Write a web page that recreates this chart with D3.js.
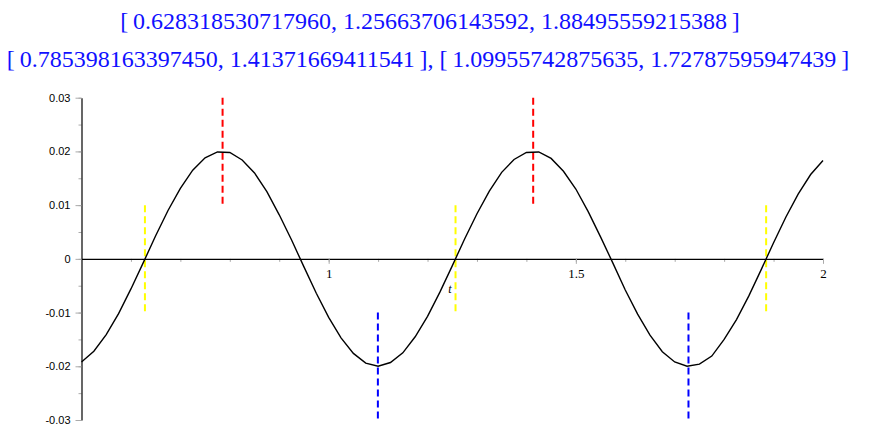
<!DOCTYPE html>
<html><head><meta charset="utf-8">
<script src="https://cdn.jsdelivr.net/npm/d3@7"></script>
<style>body{margin:0;background:#fff;}svg{display:block;}</style>
</head><body><svg id="c" width="896" height="436"></svg>
<script>
const titleLine1 = "[\u20090.628318530717960, 1.25663706143592, 1.88495559215388\u2009]";
const titleLine2 = "[\u20090.785398163397450, 1.41371669411541\u2009], [\u20091.09955742875635, 1.72787595947439\u2009]";
const tValues = [0.500,0.525,0.550,0.575,0.600,0.625,0.650,0.675,0.700,0.725,0.750,0.775,0.800,0.825,0.850,0.875,0.900,0.925,0.950,0.975,
  1.000,1.025,1.050,1.075,1.100,1.125,1.150,1.175,1.200,1.225,1.250,1.275,1.300,1.325,1.350,1.375,1.400,1.425,1.450,1.475,
  1.500,1.525,1.550,1.575,1.600,1.625,1.650,1.675,1.700,1.725,1.750,1.775,1.800,1.825,1.850,1.875,1.900,1.925,1.950,1.975,2.000];
const fValues = [-0.0192,-0.0172,-0.0141,-0.0102,-0.0056,-0.0007,0.0043,0.0090,0.0131,0.0165,0.0188,0.0199,0.0198,0.0184,0.0160,0.0125,0.0082,0.0035,-0.0015,-0.0064,
  -0.0109,-0.0147,-0.0176,-0.0194,-0.0200,-0.0193,-0.0175,-0.0145,-0.0107,-0.0062,-0.0013,0.0037,0.0084,0.0126,0.0161,0.0185,0.0198,0.0199,0.0187,0.0163,
  0.0130,0.0088,0.0041,-0.0008,-0.0058,-0.0103,-0.0142,-0.0173,-0.0192,-0.0200,-0.0196,-0.0181,-0.0150,-0.0113,-0.0069,-0.0020,0.0030,0.0078,0.0121,0.0157,0.0183];
const zeros = [0.628318530717960, 1.25663706143592, 1.88495559215388];
const maxima = [0.785398163397450, 1.41371669411541];
const minima = [1.09955742875635, 1.72787595947439];
const zeroSpan = [-0.01, 0.01];
const maxSpan = [0.01, 0.03];
const minSpan = [-0.03, -0.01];
const yTickValues = [0.03, 0.02, 0.01, 0, -0.01, -0.02, -0.03];
const yTickLabels = ["0.03","0.02","0.01","0","-0.01","-0.02","-0.03"];
const xTickValues = [1, 1.5, 2];
const xTickLabels = ["1","1.5","2"];
const xLabel = "t";

const svg = d3.select("#c");
const x = d3.scaleLinear().domain([0.5, 2]).range([81.5, 823]);
const y = d3.scaleLinear().domain([-0.03, 0.03]).range([420, 97.7]);

// title
svg.append("text").attr("x", 430).attr("y", 29).attr("text-anchor","middle")
  .attr("font-family","'Liberation Serif','Times New Roman',serif").attr("font-size",24)
  .attr("fill","#1010ff").text(titleLine1);
svg.append("text").attr("x", 428).attr("y", 67).attr("text-anchor","middle")
  .attr("font-family","'Liberation Serif','Times New Roman',serif").attr("font-size",24)
  .attr("fill","#1010ff").text(titleLine2);

// x axis minor ticks
const xMinor = d3.range(6, 21).map(d => d/10);
const gxm = svg.append("g").attr("transform", `translate(0,${y(0)})`)
  .call(d3.axisBottom(x).tickValues(xMinor).tickSize(3).tickFormat(""));
gxm.selectAll(".tick line").attr("stroke","#aaa");
gxm.select(".domain").remove();
const gx = svg.append("g").attr("transform", `translate(0,${y(0)})`)
  .call(d3.axisBottom(x).tickValues(xTickValues).tickSize(5).tickSizeOuter(0).tickPadding(5)
    .tickFormat((d,i) => xTickLabels[i]));
gx.selectAll(".tick line").attr("stroke","#aaa");
gx.select(".domain").attr("stroke","#000").attr("stroke-width",1.2);
gx.selectAll(".tick text").attr("font-family","'Liberation Serif','Times New Roman',serif").attr("font-size",13).attr("fill","#000");

// y axis
const yMinor = d3.range(-6, 7).map(d => d*0.005);
const gym = svg.append("g").attr("transform", `translate(${x(0.5)},0)`)
  .call(d3.axisLeft(y).tickValues(yMinor).tickSize(3).tickFormat(""));
gym.selectAll(".tick line").attr("stroke","#aaa");
gym.select(".domain").remove();
const gy = svg.append("g").attr("transform", `translate(${x(0.5)},0)`)
  .call(d3.axisLeft(y).tickValues(yTickValues).tickSize(6).tickSizeOuter(0).tickPadding(5)
    .tickFormat((d,i) => yTickLabels[i]));
gy.selectAll(".tick line").attr("stroke","#aaa");
gy.select(".domain").attr("stroke","#000").attr("stroke-width",1.2);
gy.selectAll(".tick text").attr("font-family","'Liberation Sans',Arial,sans-serif").attr("font-size",11).attr("fill","#000");

// x label
svg.append("text").attr("x", x(1.25)-4).attr("y", 293)
  .attr("font-family","'Liberation Serif','Times New Roman',serif").attr("font-style","italic")
  .attr("font-size",12).attr("fill","#000").text(xLabel);

// dashed markers
function marks(vals, span, color){
  svg.append("g").selectAll("line").data(vals).join("line")
    .attr("x1", d => x(d)).attr("x2", d => x(d))
    .attr("y1", y(span[1])).attr("y2", y(span[0]))
    .attr("stroke", color).attr("stroke-width", 2)
    .attr("stroke-dasharray","7,4");
}
marks(zeros, zeroSpan, "#ffff00");
marks(maxima, maxSpan, "#ff0000");
marks(minima, minSpan, "#0000ff");

// curve
const pts = tValues.map((t,i) => [t, fValues[i]]);
svg.append("path").datum(pts)
  .attr("fill","none").attr("stroke","#000").attr("stroke-width",1.4)
  .attr("d", d3.line().x(d => x(d[0])).y(d => y(d[1])).curve(d3.curveLinear));
</script></body></html>
